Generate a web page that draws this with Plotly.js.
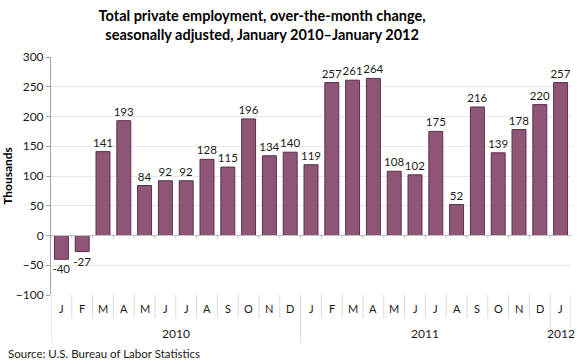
<!DOCTYPE html>
<html><head><meta charset="utf-8">
<script src="https://cdn.plot.ly/plotly-3.0.1.min.js"></script>
<style>html,body{margin:0;padding:0;background:#fff}#chart{width:580px;height:364px}</style>
</head><body><div id="chart"></div>
<script>
const months = ["J","F","M","A","M","J","J","A","S","O","N","D","J","F","M","A","M","J","J","A","S","O","N","D","J"];
const years = ["2010","2011","2012"];
const yearStart = [0, 12, 24];
const yearEnd = [11, 23, 24];
const values = [-40,-27,141,193,84,92,92,128,115,196,134,140,119,257,261,264,108,102,175,52,216,139,178,220,257];

const idx = months.map((m,i)=>i);
const FONT = "Lato, 'Open Sans', sans-serif";

const shapes = [];
const annotations = [];
for (let i = 0; i <= months.length; i++) {
  const b = i - 0.5;
  const isYear = yearStart.includes(i) || i === months.length;
  shapes.push({type:'line', xref:'x', yref:'paper', x0:b, x1:b, y0:0, y1: isYear ? -0.2 : -0.098,
    line:{color:'#d9d9d9', width:1}});
  shapes.push({type:'line', xref:'x', yref:'y', x0:b, x1:b, y0:0, y1:-5, line:{color:'#bfbfbf', width:1}});
}
shapes.push({type:'line', xref:'paper', yref:'y', x0:0, x1:1, y0:0, y1:0, line:{color:'#bfbfbf', width:1}});

months.forEach((m,i)=>{
  annotations.push({x:i, y:-0.055, xref:'x', yref:'paper', text:m, showarrow:false,
    font:{family:FONT, size:11, color:'#1a1a1a'}, yanchor:'middle'});
});
years.forEach((yr,k)=>{
  annotations.push({x:(yearStart[k]+yearEnd[k])/2, y:-0.16, xref:'x', yref:'paper', text:yr, showarrow:false,
    font:{family:FONT, size:12, color:'#1a1a1a'}, yanchor:'middle'});
});
annotations.push({x:-0.086, y:-0.245, xref:'paper', yref:'paper', xanchor:'left', yanchor:'middle',
  text:'Source: U.S. Bureau of Labor Statistics', showarrow:false, font:{family:FONT, size:11.5, color:'#1a1a1a'}});

const trace = {
  type:'bar', x: idx, y: values,
  text: values.map(String), textposition:'outside', cliponaxis:false, constraintext:'none',
  textfont:{family:FONT, size:11.5, color:'#1a1a1a'},
  marker:{color:'#8e5576', line:{color:'#5a3049', width:1}},
  hoverinfo:'none'
};

const layout = {
  width:580, height:364,
  margin:{l:51, r:9, t:57, b:69},
  paper_bgcolor:'#fff', plot_bgcolor:'#fff',
  bargap:0.33,
  showlegend:false,
  title:{text:'<b>Total private employment, over-the-month change,<br>seasonally adjusted, January 2010\u2013January 2012</b>',
    font:{family:FONT, size:14.5, color:'#000'}, x:0.452, xanchor:'center', y:0.943, yanchor:'top'},
  xaxis:{range:[-0.5, 24.5], showticklabels:false, ticks:'', showgrid:false, zeroline:false, fixedrange:true},
  yaxis:{range:[-100,300], dtick:50, tick0:-100, showgrid:true, gridcolor:'#e6e6e6', gridwidth:1,
    zeroline:false, showline:true, linecolor:'#a6a6a6', linewidth:1, ticks:'outside', ticklen:4, tickcolor:'#a6a6a6',
    tickfont:{family:FONT, size:12, color:'#1a1a1a'},
    title:{text:'<b>Thousands</b>', font:{family:FONT, size:12, color:'#000'}, standoff:6}},
  shapes: shapes,
  annotations: annotations
};

Plotly.newPlot('chart', [trace], layout, {staticPlot:true, displayModeBar:false});
</script>
</body></html>
